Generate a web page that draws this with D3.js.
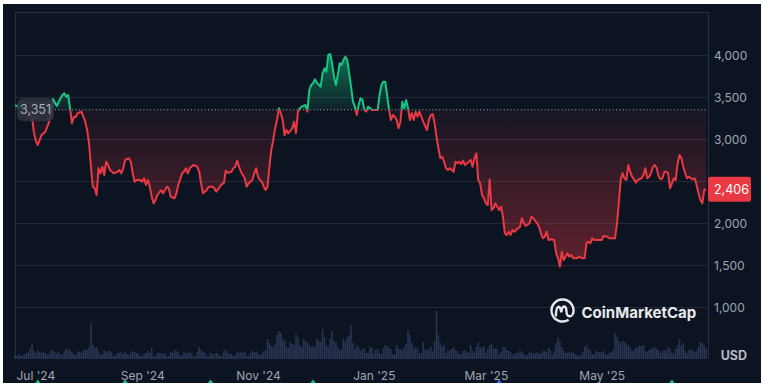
<!DOCTYPE html>
<html>
<head>
<meta charset="utf-8">
<script src="https://cdn.jsdelivr.net/npm/d3@7"></script>
<style>
  html, body { margin: 0; padding: 0; background: #fff; }
  svg { display: block; font-family: Inter, "Noto Sans", sans-serif; }
  .axis text { fill: #9ea5b3; font-size: 12px; font-family: Inter, "Noto Sans", sans-serif; }
</style>
</head>
<body>
<svg width="763" height="390"></svg>
<script>
// ETH / USD, 1 year, daily close
const priceSeries = [
  ["2024-06-26",3408],["2024-06-28",3385],["2024-07-01",3373],["2024-07-03",3325],["2024-07-05",3254],
  ["2024-07-06",3075],["2024-07-07",2980],["2024-07-08",2932],["2024-07-09",2992],["2024-07-10",3051],
  ["2024-07-12",3090],["2024-07-13",3150],["2024-07-14",3210],["2024-07-15",3325],["2024-07-16",3480],
  ["2024-07-18",3397],["2024-07-20",3488],["2024-07-21",3527],["2024-07-22",3548],["2024-07-23",3507],
  ["2024-07-24",3527],["2024-07-25",3369],["2024-07-26",3190],["2024-07-27",3269],["2024-07-28",3265],
  ["2024-07-29",3310],["2024-07-31",3329],["2024-08-01",3269],["2024-08-02",3210],["2024-08-03",3111],
  ["2024-08-04",2952],["2024-08-05",2674],["2024-08-06",2436],["2024-08-07",2417],["2024-08-08",2337],
  ["2024-08-09",2655],["2024-08-10",2595],["2024-08-11",2674],["2024-08-12",2575],["2024-08-13",2733],
  ["2024-08-14",2694],["2024-08-15",2634],["2024-08-17",2595],["2024-08-19",2614],["2024-08-20",2634],
  ["2024-08-21",2595],["2024-08-22",2655],["2024-08-23",2754],["2024-08-25",2774],["2024-08-26",2733],
  ["2024-08-27",2595],["2024-08-28",2495],["2024-08-29",2516],["2024-08-31",2516],["2024-09-01",2495],
  ["2024-09-02",2536],["2024-09-03",2456],["2024-09-04",2516],["2024-09-05",2436],["2024-09-06",2317],
  ["2024-09-07",2238],["2024-09-08",2277],["2024-09-09",2337],["2024-09-11",2396],["2024-09-12",2357],
  ["2024-09-14",2436],["2024-09-15",2417],["2024-09-16",2317],["2024-09-18",2298],["2024-09-19",2357],
  ["2024-09-20",2456],["2024-09-22",2595],["2024-09-23",2614],["2024-09-24",2655],["2024-09-25",2595],
  ["2024-09-26",2655],["2024-09-28",2694],["2024-09-30",2674],["2024-10-01",2614],["2024-10-02",2476],
  ["2024-10-03",2357],["2024-10-05",2396],["2024-10-06",2436],["2024-10-08",2436],["2024-10-09",2417],
  ["2024-10-10",2376],["2024-10-12",2436],["2024-10-13",2468],["2024-10-14",2476],["2024-10-15",2626],
  ["2024-10-16",2602],["2024-10-18",2614],["2024-10-19",2655],["2024-10-20",2674],["2024-10-21",2745],
  ["2024-10-22",2674],["2024-10-23",2614],["2024-10-25",2536],["2024-10-26",2436],["2024-10-27",2476],
  ["2024-10-29",2516],["2024-10-30",2595],["2024-10-31",2655],["2024-11-01",2555],["2024-11-02",2516],
  ["2024-11-03",2495],["2024-11-04",2436],["2024-11-05",2396],["2024-11-06",2436],["2024-11-07",2674],
  ["2024-11-08",2873],["2024-11-09",2992],["2024-11-10",3131],["2024-11-11",3230],["2024-11-12",3369],
  ["2024-11-13",3310],["2024-11-14",3230],["2024-11-15",3051],["2024-11-16",3111],["2024-11-17",3072],
  ["2024-11-19",3131],["2024-11-20",3210],["2024-11-21",3072],["2024-11-22",3329],["2024-11-23",3369],
  ["2024-11-24",3388],["2024-11-26",3408],["2024-11-27",3329],["2024-11-28",3587],["2024-11-29",3646],
  ["2024-11-30",3667],["2024-12-01",3714],["2024-12-02",3674],["2024-12-04",3626],["2024-12-05",3786],
  ["2024-12-06",3845],["2024-12-07",3805],["2024-12-08",4004],["2024-12-09",4015],["2024-12-10",3905],
  ["2024-12-11",3745],["2024-12-12",3646],["2024-12-13",3765],["2024-12-14",3905],["2024-12-15",3885],
  ["2024-12-16",3944],["2024-12-17",3983],["2024-12-18",3944],["2024-12-19",3786],["2024-12-20",3626],
  ["2024-12-21",3448],["2024-12-22",3388],["2024-12-23",3289],["2024-12-24",3408],["2024-12-25",3488],
  ["2024-12-26",3468],["2024-12-27",3349],["2024-12-28",3329],["2024-12-29",3388],["2024-12-30",3369],
  ["2024-12-31",3349],["2025-01-02",3349],["2025-01-03",3349],["2025-01-04",3527],["2025-01-05",3646],
  ["2025-01-06",3686],["2025-01-07",3686],["2025-01-08",3527],["2025-01-09",3349],["2025-01-10",3230],
  ["2025-01-11",3289],["2025-01-12",3269],["2025-01-13",3230],["2025-01-14",3131],["2025-01-15",3210],
  ["2025-01-16",3448],["2025-01-17",3369],["2025-01-18",3468],["2025-01-19",3369],["2025-01-20",3230],
  ["2025-01-21",3310],["2025-01-22",3230],["2025-01-23",3329],["2025-01-24",3269],["2025-01-25",3329],
  ["2025-01-26",3269],["2025-01-27",3210],["2025-01-29",3111],["2025-01-30",3230],["2025-01-31",3289],
  ["2025-02-01",3301],["2025-02-02",3190],["2025-02-03",3031],["2025-02-04",2893],["2025-02-05",2774],
  ["2025-02-06",2793],["2025-02-07",2733],["2025-02-08",2655],["2025-02-09",2634],["2025-02-10",2655],
  ["2025-02-12",2614],["2025-02-13",2733],["2025-02-14",2714],["2025-02-15",2733],["2025-02-16",2706],
  ["2025-02-17",2745],["2025-02-18",2694],["2025-02-20",2733],["2025-02-21",2754],["2025-02-22",2674],
  ["2025-02-23",2774],["2025-02-24",2833],["2025-02-25",2516],["2025-02-26",2476],["2025-02-27",2337],
  ["2025-02-28",2298],["2025-03-01",2238],["2025-03-02",2218],["2025-03-03",2524],["2025-03-04",2158],
  ["2025-03-05",2178],["2025-03-06",2238],["2025-03-07",2198],["2025-03-08",2158],["2025-03-09",2198],
  ["2025-03-10",2079],["2025-03-11",1881],["2025-03-12",1861],["2025-03-13",1900],["2025-03-14",1861],
  ["2025-03-15",1920],["2025-03-16",1900],["2025-03-18",1940],["2025-03-19",1960],["2025-03-20",2060],
  ["2025-03-21",2000],["2025-03-22",1968],["2025-03-24",2000],["2025-03-25",2079],["2025-03-26",2060],
  ["2025-03-28",2000],["2025-03-29",1960],["2025-03-30",1881],["2025-03-31",1821],["2025-04-01",1840],
  ["2025-04-02",1900],["2025-04-03",1801],["2025-04-04",1810],["2025-04-06",1801],["2025-04-07",1643],
  ["2025-04-08",1583],["2025-04-09",1483],["2025-04-10",1662],["2025-04-11",1563],["2025-04-13",1643],
  ["2025-04-14",1602],["2025-04-15",1623],["2025-04-16",1583],["2025-04-18",1583],["2025-04-19",1602],
  ["2025-04-21",1583],["2025-04-22",1583],["2025-04-23",1762],["2025-04-24",1781],["2025-04-25",1762],
  ["2025-04-26",1821],["2025-04-27",1801],["2025-04-29",1801],["2025-05-01",1801],["2025-05-02",1849],
  ["2025-05-04",1840],["2025-05-05",1821],["2025-05-06",1821],["2025-05-08",1821],["2025-05-09",1980],
  ["2025-05-10",2238],["2025-05-11",2516],["2025-05-12",2595],["2025-05-13",2536],["2025-05-14",2516],
  ["2025-05-15",2694],["2025-05-16",2614],["2025-05-17",2555],["2025-05-18",2524],["2025-05-19",2483],
  ["2025-05-20",2516],["2025-05-22",2536],["2025-05-23",2575],["2025-05-24",2655],["2025-05-25",2536],
  ["2025-05-26",2555],["2025-05-27",2595],["2025-05-28",2674],["2025-05-29",2694],["2025-05-30",2655],
  ["2025-05-31",2555],["2025-06-01",2524],["2025-06-02",2536],["2025-06-03",2614],["2025-06-04",2614],
  ["2025-06-05",2595],["2025-06-06",2417],["2025-06-07",2476],["2025-06-08",2536],["2025-06-09",2516],
  ["2025-06-10",2714],["2025-06-11",2813],["2025-06-12",2774],["2025-06-13",2674],["2025-06-14",2595],
  ["2025-06-15",2536],["2025-06-16",2555],["2025-06-17",2536],["2025-06-18",2524],["2025-06-19",2536],
  ["2025-06-20",2456],["2025-06-21",2357],["2025-06-22",2277],["2025-06-23",2238],["2025-06-24",2396],
  ["2025-06-25",2406]
];

// daily volume in $B, one value per day starting at volumeStart
const volumeStart = "2024-06-26";
const volumes = [
  4,3,5,3,4,
  5,6,7,10,15,8,6,9,7,6,7,6,4,5,8,9,7,6,7,4,5,8,11,9,10,7,5,4,8,7,6,
  8,10,9,12,36,14,11,12,8,4,5,9,7,8,8,6,3,4,6,6,7,5,8,5,4,6,8,7,6,6,3,
  3,5,6,8,6,11,3,3,6,6,6,5,6,3,3,7,6,9,8,7,3,4,7,6,6,7,6,3,3,7,
  12,9,7,6,3,3,6,5,5,6,5,3,3,8,9,6,5,5,3,4,8,6,7,6,7,3,3,6,8,7,7,
  6,4,5,8,9,20,16,13,12,15,24,28,26,20,18,12,11,17,15,14,25,22,14,12,20,18,17,14,12,13,
  12,20,18,17,30,22,14,12,20,28,18,16,12,9,10,20,18,22,24,34,16,10,14,12,8,10,11,6,6,12,11,
  5,9,10,6,5,11,14,13,11,10,5,4,14,10,10,9,12,15,29,24,16,10,12,11,6,6,17,10,9,10,12,
  8,18,48,24,16,12,14,6,8,9,10,12,9,8,5,5,8,9,7,6,14,8,6,12,17,12,11,13,
  6,10,14,15,11,10,10,5,7,12,12,9,8,7,4,5,6,6,8,7,5,3,4,7,6,5,6,7,5,6,8,
  8,7,11,9,4,8,16,22,18,12,8,6,6,7,6,7,5,4,3,4,7,12,14,10,9,5,5,8,7,7,
  7,8,5,4,6,7,9,26,22,18,16,18,17,15,14,12,8,9,12,11,14,13,14,8,7,9,10,11,12,10,8,
  6,8,9,8,12,10,6,5,10,14,20,14,16,8,6,9,10,9,7,8,12,17,16,14,11
];

const baselinePrice = 3351;
const lastPrice = 2406;
const priceGrid = [1000, 1500, 2000, 2500, 3000, 3500, 4000];
// 2,500 sits under the last-price tag, so it is not labelled
const priceLabels = [1000, 1500, 2000, 3000, 3500, 4000];
const timeTicks = ["2024-07-01", "2024-09-01", "2024-11-01", "2025-01-01", "2025-03-01", "2025-05-01"];
const timeTickLabels = ["Jul '24", "Sep '24", "Nov '24", "Jan '25", "Mar '25", "May '25"];
const eventDates = ["2024-07-08", "2024-08-23", "2024-10-07", "2024-11-30", "2025-03-08", "2025-06-07"];
const eventKinds = ["up", "up", "up", "up", "info", "up"];

const green = "#16c784", red = "#ea3943";
const parse = d3.timeParse("%Y-%m-%d");
const data = priceSeries.map(([d, v]) => ({date: parse(d), value: v}));
const vol = volumes.map((v, i) => ({date: d3.timeDay.offset(parse(volumeStart), i), value: v}));

const svg = d3.select("svg");
const plotLeft = 15, plotRight = 708, plotTop = 12, volBottom = 359;

const x = d3.scaleTime().domain([parse("2024-06-26"), parse("2025-06-26")]).range([plotLeft, plotRight]);
const y = d3.scaleLinear().domain([0, 4500]).range([391.3, 13.3]);
const vy = d3.scaleLinear().domain([0, 60]).range([volBottom, volBottom - 60]);
const yBase = y(baselinePrice);

// panel
svg.append("rect").attr("x", 3).attr("y", 4).attr("width", 758).attr("height", 379).attr("fill", "#0d1421");

const defs = svg.append("defs");
defs.append("clipPath").attr("id", "panel")
  .append("rect").attr("x", 3).attr("y", 4).attr("width", 758).attr("height", 379);
defs.append("clipPath").attr("id", "above")
  .append("rect").attr("x", 0).attr("y", 0).attr("width", 763).attr("height", yBase);
defs.append("clipPath").attr("id", "below")
  .append("rect").attr("x", 0).attr("y", yBase).attr("width", 763).attr("height", 390 - yBase);

const gUp = defs.append("linearGradient").attr("id", "gUp")
  .attr("gradientUnits", "userSpaceOnUse").attr("x1", 0).attr("x2", 0).attr("y1", y(4000)).attr("y2", yBase);
gUp.append("stop").attr("offset", 0).attr("stop-color", green).attr("stop-opacity", 0.5);
gUp.append("stop").attr("offset", 1).attr("stop-color", green).attr("stop-opacity", 0.08);

const gDown = defs.append("linearGradient").attr("id", "gDown")
  .attr("gradientUnits", "userSpaceOnUse").attr("x1", 0).attr("x2", 0).attr("y1", yBase).attr("y2", y(1450));
gDown.append("stop").attr("offset", 0).attr("stop-color", red).attr("stop-opacity", 0.05);
gDown.append("stop").attr("offset", 1).attr("stop-color", red).attr("stop-opacity", 0.38);

// grid + frame
svg.append("g").selectAll("line").data(priceGrid).join("line")
  .attr("x1", plotLeft).attr("x2", plotRight)
  .attr("y1", d => Math.round(y(d)) + 0.5).attr("y2", d => Math.round(y(d)) + 0.5)
  .attr("stroke", "#232938").attr("stroke-width", 1);

svg.append("path")
  .attr("d", `M${plotLeft + 0.5},${volBottom} V${plotTop + 0.5} H${plotRight + 0.5} V${volBottom}`)
  .attr("fill", "none").attr("stroke", "#2a303d");

// volume
svg.append("g").selectAll("rect").data(vol).join("rect")
  .attr("x", d => x(d.date) - 0.75)
  .attr("width", 1.5)
  .attr("y", d => vy(d.value))
  .attr("height", d => volBottom - vy(d.value))
  .attr("fill", "#323d62").attr("opacity", 0.8);

// areas
const area = d3.area().x(d => x(d.date)).y0(yBase).y1(d => y(d.value));
const line = d3.line().x(d => x(d.date)).y(d => y(d.value));

svg.append("path").datum(data).attr("d", area).attr("fill", "url(#gUp)").attr("clip-path", "url(#above)");
svg.append("path").datum(data).attr("d", area).attr("fill", "url(#gDown)").attr("clip-path", "url(#below)");

// baseline
svg.append("line")
  .attr("x1", 55).attr("x2", plotRight - 1)
  .attr("y1", yBase).attr("y2", yBase)
  .attr("stroke", "#a3abb8").attr("stroke-width", 1).attr("stroke-dasharray", "1,2.4");

svg.append("path").datum(data).attr("d", line).attr("fill", "none")
  .attr("stroke", green).attr("stroke-width", 2).attr("stroke-linejoin", "round")
  .attr("clip-path", "url(#above)");
svg.append("path").datum(data).attr("d", line).attr("fill", "none")
  .attr("stroke", red).attr("stroke-width", 2).attr("stroke-linejoin", "round")
  .attr("clip-path", "url(#below)");

// baseline label
svg.append("rect").attr("x", 17).attr("y", yBase - 11.5).attr("width", 37).attr("height", 23)
  .attr("rx", 6).attr("fill", "#30353f").attr("opacity", 0.88);
svg.append("text").attr("x", 35.5).attr("y", yBase).attr("dy", "0.35em")
  .attr("text-anchor", "middle").attr("fill", "#a9afbb").attr("font-size", 12.5)
  .text(d3.format(",")(baselinePrice));

// y axis
const yAxis = svg.append("g").attr("class", "axis")
  .attr("transform", `translate(${plotRight},0)`)
  .call(d3.axisRight(y).tickValues(priceLabels).tickSize(0).tickPadding(6).tickFormat(d3.format(",")));
yAxis.select(".domain").remove();

// last price tag
svg.append("rect").attr("x", plotRight).attr("y", y(lastPrice) - 12.5).attr("width", 43).attr("height", 25)
  .attr("rx", 2.5).attr("fill", red);
svg.append("text").attr("x", plotRight + 6).attr("y", y(lastPrice)).attr("dy", "0.35em")
  .attr("fill", "#fff").attr("font-size", 12.5).text(d3.format(",")(lastPrice));

svg.append("text").attr("x", 747).attr("y", 360).attr("text-anchor", "end")
  .attr("fill", "#b3b9c5").attr("font-size", 12.5).attr("font-weight", 700).text("USD");

// x axis
const xAxis = svg.append("g").attr("class", "axis")
  .attr("transform", `translate(0,367)`)
  .call(d3.axisBottom(x).tickValues(timeTicks.map(parse)).tickSize(0).tickPadding(4)
    .tickFormat((d, i) => timeTickLabels[i]));
xAxis.select(".domain").remove();
xAxis.select(".tick:first-of-type text")
  .attr("text-anchor", "start")
  .attr("x", plotLeft + 1 - x(parse(timeTicks[0])));

// event markers, cut by the panel edge
svg.append("g").attr("clip-path", "url(#panel)").selectAll("path").data(eventDates).join("path")
  .attr("d", d => { const cx = x(parse(d)); return `M${cx},379.5 L${cx + 3},383.5 L${cx - 3},383.5 Z`; })
  .attr("fill", (d, i) => eventKinds[i] === "up" ? green : "#3861fb");

// watermark
const wm = svg.append("g").attr("transform", "translate(562.5,310.5)")
  .attr("fill", "none").attr("stroke", "#e8eaee").attr("stroke-width", 2.4).attr("stroke-linecap", "round");
wm.append("path").attr("d", d3.arc()({innerRadius: 11, outerRadius: 11, startAngle: 2.55, endAngle: 2.55 + 2 * Math.PI - 0.55}));
wm.append("path").attr("d", "M-6.5,5 C-6.5,-6 -2,-6 -1.2,2 C-0.4,-6 4,-6 4,1.5 C4,5.5 6.5,6.5 9,5.2");
svg.append("text").attr("x", 581.5).attr("y", 318).attr("fill", "#e8eaee")
  .attr("font-size", 15).attr("font-weight", 700).text("CoinMarketCap");
</script>
</body>
</html>
